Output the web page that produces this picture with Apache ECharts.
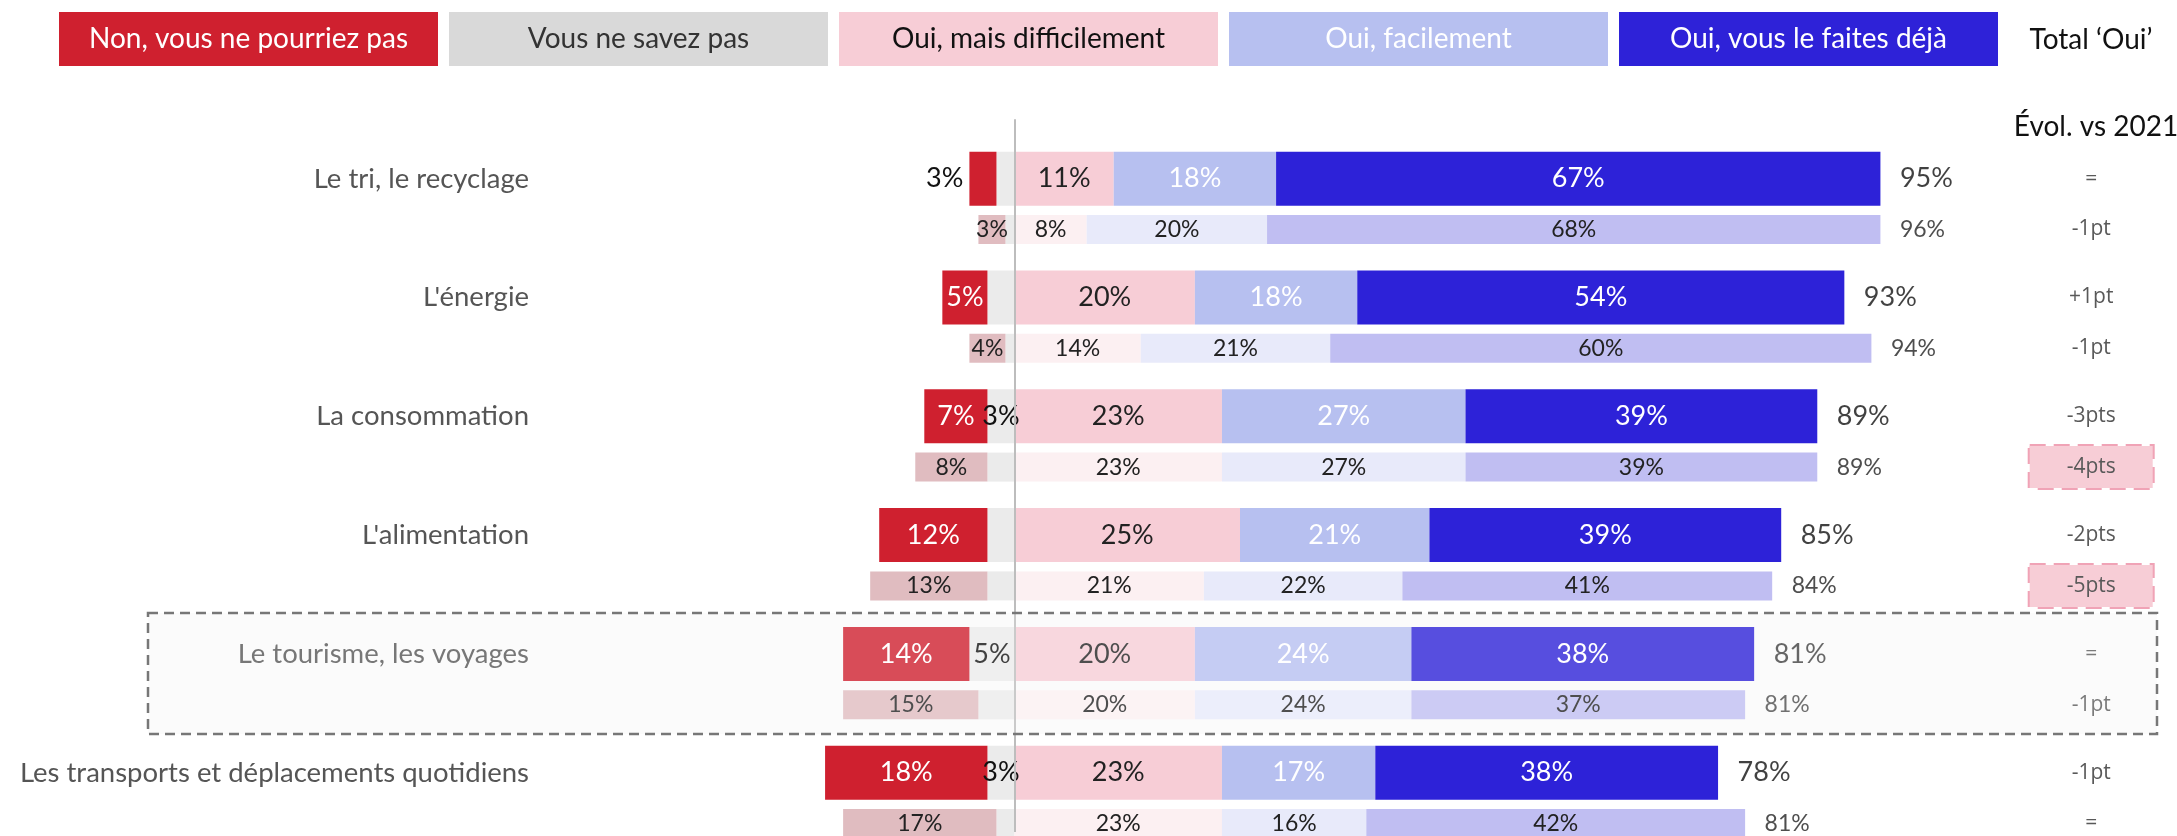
<!DOCTYPE html>
<html>
<head>
<meta charset="utf-8">
<script src="https://cdn.jsdelivr.net/npm/echarts@6/dist/echarts.min.js"></script>
<style>
html, body { margin: 0; padding: 0; background: #fff; }
#main { width: 2177px; height: 836px; }
</style>
</head>
<body>
<div id="main"></div>
<script>
// categories (top to bottom)
var categories = [
  'Le tri, le recyclage',
  "L'énergie",
  'La consommation',
  "L'alimentation",
  'Le tourisme, les voyages',
  'Les transports et déplacements quotidiens'
];
var legendNames = ['Non, vous ne pourriez pas', 'Vous ne savez pas', 'Oui, mais difficilement', 'Oui, facilement', 'Oui, vous le faites déjà'];

// current wave (thick bars)
var nonCur  = [3, 5, 7, 12, 14, 18];
var nspCur  = [2, 3, 3, 3, 5, 3];
var nspCurLabel = [false, false, true, false, true, true];
var diffCur = [11, 20, 23, 25, 20, 23];
var facCur  = [18, 18, 27, 21, 24, 17];
var dejaCur = [67, 54, 39, 39, 38, 38];
var totalCur = [95, 93, 89, 85, 81, 78];
var evolCur = ['=', '+1pt', '-3pts', '-2pts', '=', '-1pt'];

// previous wave (thin bars)
var nonPrev  = [3, 4, 8, 13, 15, 17];
var nspPrev  = [1, 1, 3, 3, 4, 2];
var diffPrev = [8, 14, 23, 21, 20, 23];
var facPrev  = [20, 21, 27, 22, 24, 16];
var dejaPrev = [68, 60, 39, 41, 37, 42];
var totalPrev = [96, 94, 89, 84, 81, 81];
var evolPrev = ['-1pt', '-1pt', '-4pts', '-5pts', '-1pt', '='];
var evolPrevHighlight = [false, false, true, true, false, false];

var chart = echarts.init(document.getElementById('main'));

var FONT = 'Lato';
var LEFT = 563.5, RIGHT = 170.3, BAND = 118.8;

var legendColors = ['#cf202f', '#d9d9d9', '#f7cdd6', '#b7c0f0', '#2e22d8'];
var legendText = ['#fff', '#333', '#111', '#fff', '#fff'];

function pct(p) { return Math.abs(p.value) + '%'; }

function bars(prefix, grid, stack, width, fontSize, cols, txt, values, neg, labelFn) {
  return {
    type: 'bar',
    name: prefix,
    stack: stack,
    xAxisIndex: grid,
    yAxisIndex: grid * 2,
    barWidth: width,
    itemStyle: { color: cols },
    label: { show: true, position: 'inside', fontFamily: FONT, fontSize: fontSize, color: txt, formatter: pct },
    data: values.map(function (v, i) {
      var item = { value: neg ? -v : v };
      if (labelFn) labelFn(item, v, i);
      return item;
    })
  };
}

function sums(a, b, c) { return a.map(function (v, i) { return [v + b[i] + c[i], i]; }); }

function totals(grid, data, labels, fontSize, color) {
  return {
    type: 'scatter',
    xAxisIndex: grid,
    yAxisIndex: grid * 2,
    symbolSize: 1,
    itemStyle: { color: 'rgba(0,0,0,0)' },
    label: {
      show: true, position: 'right', distance: 19, fontFamily: FONT, fontSize: fontSize, color: color,
      formatter: function (p) { return labels[p.dataIndex] + '%'; }
    },
    data: data
  };
}

var evolRich = {
  n: { fontFamily: 'Open Sans', fontSize: 21, color: '#595959' },
  hl: {
    fontFamily: 'Open Sans', fontSize: 21, color: '#595959',
    backgroundColor: '#f7cdd6', borderColor: '#f0a3b6', borderWidth: 2, borderType: 'dashed',
    width: 123, height: 42, lineHeight: 42, align: 'center'
  }
};

var series = [
  bars('nspCur', 0, 'cur', 54, 27, '#ebebeb', '#111', nspCur, true, function (item, v, i) {
    if (!nspCurLabel[i]) item.label = { show: false };
  }),
  bars('nonCur', 0, 'cur', 54, 27, '#cf202f', '#fff', nonCur, true, function (item, v) {
    if (v < 4) item.label = { position: 'left', distance: 6, color: '#111' };
  }),
  bars('diffCur', 0, 'cur', 54, 27, '#f7cdd6', '#222', diffCur, false),
  bars('facCur', 0, 'cur', 54, 27, '#b7c0f0', '#fff', facCur, false),
  bars('dejaCur', 0, 'cur', 54, 27, '#2d22d8', '#fff', dejaCur, false),
  totals(0, sums(diffCur, facCur, dejaCur), totalCur, 27, '#111'),

  bars('nspPrev', 1, 'prev', 29, 23, '#ebebeb', '#222', nspPrev, true, function (item) {
    item.label = { show: false };
  }),
  bars('nonPrev', 1, 'prev', 29, 23, '#e0bcc0', '#222', nonPrev, true),
  bars('diffPrev', 1, 'prev', 29, 23, '#fcf0f2', '#222', diffPrev, false),
  bars('facPrev', 1, 'prev', 29, 23, '#e8eafa', '#222', facPrev, false),
  bars('dejaPrev', 1, 'prev', 29, 23, '#c0bef2', '#222', dejaPrev, false),
  totals(1, sums(diffPrev, facPrev, dejaPrev), totalPrev, 23, '#222')
];

// zero line
series[2].markLine = {
  silent: true, symbol: 'none', animation: false,
  label: { show: false },
  lineStyle: { color: '#bdbdbd', width: 2, type: 'solid' },
  data: [{ xAxis: 0 }]
};

var graphic = [];
legendNames.forEach(function (n, k) {
  graphic.push({
    type: 'rect', x: 59 + k * 390, y: 12, shape: { width: 379, height: 54 },
    style: { fill: legendColors[k] }, silent: true
  });
  graphic.push({
    type: 'text', x: 59 + k * 390 + 189.5, y: 39,
    style: { text: n, fill: legendText[k], font: '28px Lato', textAlign: 'center', textVerticalAlign: 'middle' },
    silent: true
  });
});
graphic.push({
  type: 'text', x: 2091, y: 40,
  style: { text: 'Total ‘Oui’', fill: '#111', font: '28px Lato', textAlign: 'center', textVerticalAlign: 'middle' }
});
graphic.push({
  type: 'text', x: 2096, y: 127,
  style: { text: 'Évol. vs 2021', fill: '#111', font: '28px Lato', textAlign: 'center', textVerticalAlign: 'middle' }
});
// highlighted row (tourism)
graphic.push({
  type: 'rect', x: 148, y: 613, z: 0, shape: { width: 2009, height: 121 },
  style: { fill: '#fafafa' }, silent: true
});
graphic.push({
  type: 'rect', x: 148, y: 613, z: 100, shape: { width: 2009, height: 121 },
  style: { fill: 'rgba(255,255,255,0.2)', stroke: '#777', lineWidth: 2.5, lineDash: [10, 6] }, silent: true
});

var option = {
  animation: false,
  backgroundColor: '#fff',
  grid: [
    { left: LEFT, right: RIGHT, top: 119.3, height: BAND * 6, containLabel: false, outerBoundsMode: 'none' },
    { left: LEFT, right: RIGHT, top: 170.1, height: BAND * 6, containLabel: false, outerBoundsMode: 'none' }
  ],
  xAxis: [
    { type: 'value', gridIndex: 0, min: -50, max: 110, show: false, splitLine: { show: false } },
    { type: 'value', gridIndex: 1, min: -50, max: 110, show: false, splitLine: { show: false } }
  ],
  yAxis: [
    {
      type: 'category', gridIndex: 0, inverse: true, data: categories,
      axisLine: { show: false, onZero: false }, axisTick: { show: false },
      axisLabel: { margin: 34.5, fontFamily: FONT, fontSize: 27.5, color: '#555' }
    },
    {
      type: 'category', gridIndex: 0, inverse: true, position: 'right', data: categories,
      axisLine: { show: false }, axisTick: { show: false },
      axisLabel: {
        margin: 84.5, align: 'center', rich: evolRich,
        formatter: function (v, i) { return '{n|' + evolCur[i] + '}'; }
      }
    },
    {
      type: 'category', gridIndex: 1, inverse: true, data: categories,
      axisLine: { show: false, onZero: false }, axisTick: { show: false }, axisLabel: { show: false }
    },
    {
      type: 'category', gridIndex: 1, inverse: true, position: 'right', data: categories,
      axisLine: { show: false }, axisTick: { show: false },
      axisLabel: {
        margin: 84.5, align: 'center', rich: evolRich,
        formatter: function (v, i) { return (evolPrevHighlight[i] ? '{hl|' : '{n|') + evolPrev[i] + '}'; }
      }
    }
  ],
  series: series,
  graphic: graphic
};

chart.setOption(option);
</script>
</body>
</html>
